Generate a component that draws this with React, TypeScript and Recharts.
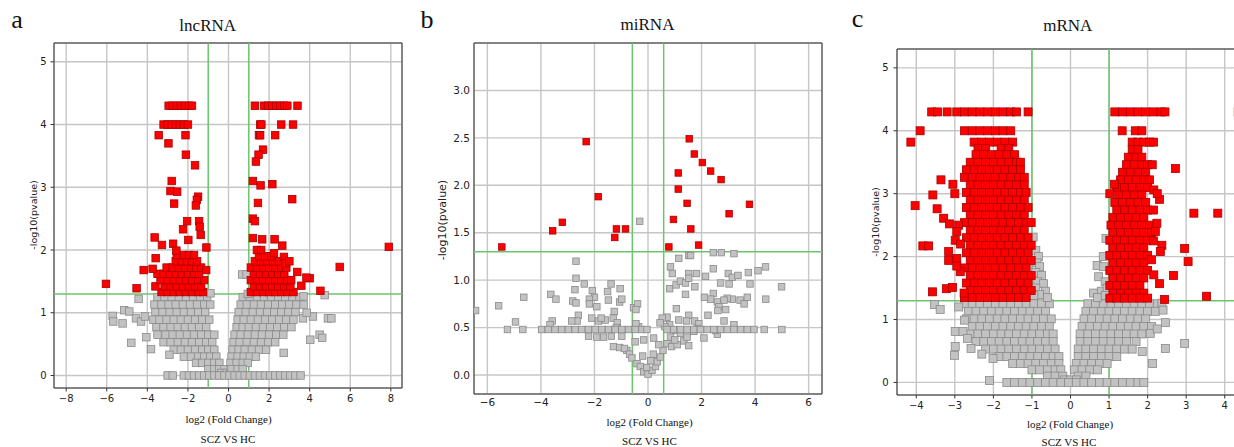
import React from 'react';
import { ScatterChart, Scatter, XAxis, YAxis, CartesianGrid, ReferenceLine, ReferenceArea } from 'recharts';

type P = [number, number];
type Row = [number, number[]];

// ---------------- lncRNA (panel a) ----------------
const lncRedSparse: P[] = [
  [-2.95, 4.3], [-2.75, 4.3], [-2.55, 4.3], [-2.35, 4.3], [-2.15, 4.3], [-1.95, 4.3], [-1.8, 4.3],
  [-3.2, 4.0], [-3.0, 4.0], [-2.8, 4.0], [-2.6, 4.0], [-2.4, 4.0], [-2.2, 4.0], [-2.0, 4.0],
  [-3.44, 3.83], [-2.12, 3.83], [-2.96, 3.7], [-2.1, 3.52], [-1.65, 3.35], [-2.8, 3.1], [-2.86, 2.94],
  [-2.53, 2.93], [-2.68, 2.74], [-1.5, 2.85], [-1.56, 2.8], [-1.61, 2.71], [-2.04, 2.46], [-1.45, 2.46],
  [-1.42, 2.37], [-1.37, 2.24], [-2.24, 2.33], [-3.64, 2.2], [-3.28, 2.08], [-2.73, 2.1], [-1.98, 2.16],
  [-1.09, 2.04], [-2.57, 1.99], [-3.59, 1.87], [-4.18, 1.68], [-3.74, 1.7], [-6.04, 1.46], [-4.53, 1.39],
  [-1.1, 1.68],
  [1.3, 4.3], [1.75, 4.3], [1.95, 4.3], [2.15, 4.3], [2.35, 4.3], [2.55, 4.3], [2.75, 4.3], [2.9, 4.3], [3.4, 4.3],
  [1.56, 4.0], [1.62, 4.0], [2.6, 4.0], [3.18, 4.0], [1.5, 3.83], [1.56, 3.83], [2.3, 3.83], [1.7, 3.6],
  [1.48, 3.52], [1.35, 3.41], [1.2, 3.1], [1.58, 3.03], [2.16, 3.05], [3.14, 2.81], [1.45, 2.75], [1.2, 2.5],
  [1.3, 2.46], [1.2, 2.19], [1.66, 2.17], [2.27, 2.17], [2.65, 2.07], [1.4, 2.0], [1.61, 2.0], [2.24, 1.95],
  [7.9, 2.05], [5.48, 1.73], [4.53, 1.35], [4.0, 1.55], [3.84, 1.56], [3.59, 1.43], [3.39, 1.65], [3.09, 1.52],
  [2.73, 1.89], [2.81, 1.79], [3.0, 1.82],
];
const lncRedLeftRows: Row[] = [
  [1.33, [-3.3, -3.0, -2.7, -2.4, -2.1, -1.8, -1.5, -1.25]],
  [1.42, [-3.6, -3.15, -2.85, -2.55, -2.25, -1.95, -1.65, -1.35]],
  [1.52, [-3.35, -3.0, -2.7, -2.4, -2.1, -1.8, -1.5, -1.2]],
  [1.62, [-3.5, -3.2, -2.9, -2.6, -2.3, -2.0, -1.7, -1.45]],
  [1.72, [-3.05, -2.75, -2.45, -2.15, -1.85, -1.6, -1.35]],
  [1.82, [-2.6, -2.3, -2.05, -1.8, -1.55]],
  [1.92, [-2.55, -2.2, -1.95, -1.7]],
];
const lncRedRightRows: Row[] = [
  [1.33, [1.1, 1.4, 1.7, 2.0, 2.3, 2.6, 2.9, 3.2]],
  [1.42, [1.25, 1.55, 1.85, 2.15, 2.45, 2.75, 3.05]],
  [1.52, [1.1, 1.4, 1.7, 2.0, 2.3, 2.6, 2.9]],
  [1.62, [1.25, 1.55, 1.85, 2.15, 2.45, 2.75]],
  [1.72, [1.1, 1.4, 1.7, 2.0, 2.3, 2.6, 2.85]],
  [1.82, [1.3, 1.6, 1.9, 2.2, 2.5]],
  [1.9, [1.5, 1.8, 2.1]],
];
const lncGreySparse: P[] = [
  [-4.43, 1.22], [-5.71, 0.95], [-5.68, 0.86], [-5.22, 0.83], [-5.14, 1.04], [-4.89, 1.02], [-4.56, 0.91],
  [-4.31, 0.86], [-4.12, 0.94], [-4.79, 0.52], [-4.05, 0.61], [-3.82, 0.42], [-2.91, 0.33], [-0.89, 1.31],
  [0.67, 1.61], [0.89, 1.61], [4.74, 1.28], [4.16, 0.94], [4.9, 0.91], [5.07, 0.91], [4.03, 0.57], [4.49, 0.65],
  [4.62, 0.6], [3.67, 0.91], [2.72, 0.36], [3.7, 1.26], [0.95, 1.3], [3.85, 1.0],
];
const lncGreyLeftRows: Row[] = [
  [1.25, [-3.5, -3.15, -2.8, -2.45, -2.1, -1.75, -1.4, -1.05]],
  [1.13, [-3.65, -3.3, -2.95, -2.6, -2.25, -1.9, -1.55, -1.2, -0.9]],
  [1.01, [-3.6, -3.25, -2.9, -2.55, -2.2, -1.85, -1.5, -1.15]],
  [0.89, [-3.7, -3.4, -3.05, -2.7, -2.35, -2.0, -1.65, -1.3, -0.95]],
  [0.77, [-3.55, -3.2, -2.85, -2.5, -2.15, -1.8, -1.45, -1.1]],
  [0.65, [-3.5, -3.1, -2.75, -2.4, -2.05, -1.7, -1.35, -1.0, -0.7]],
  [0.53, [-3.2, -2.85, -2.5, -2.15, -1.8, -1.45, -1.1, -0.8]],
  [0.41, [-2.7, -2.35, -2.0, -1.65, -1.3, -1.0, -0.7]],
  [0.3, [-2.2, -1.85, -1.5, -1.2, -0.9, -0.6]],
  [0.2, [-1.6, -1.3, -1.0, -0.7, -0.45]],
  [0.1, [-1.0, -0.7, -0.45, -0.2]],
  [0.04, [-0.35, -0.1, 0.1]],
];
const lncGreyRightRows: Row[] = [
  [1.25, [0.7, 1.05, 1.4, 1.75, 2.1, 2.45, 2.8, 3.15, 3.5]],
  [1.13, [0.6, 0.9, 1.25, 1.6, 1.95, 2.3, 2.65, 3.0, 3.35, 3.7]],
  [1.01, [0.5, 0.85, 1.2, 1.55, 1.9, 2.25, 2.6, 2.95, 3.3]],
  [0.89, [0.45, 0.75, 1.1, 1.45, 1.8, 2.15, 2.5, 2.85, 3.2]],
  [0.77, [0.4, 0.7, 1.0, 1.35, 1.7, 2.05, 2.4, 2.75, 3.1]],
  [0.65, [0.3, 0.6, 0.95, 1.3, 1.65, 2.0, 2.35, 2.7]],
  [0.53, [0.25, 0.55, 0.9, 1.25, 1.6, 1.95, 2.3]],
  [0.41, [0.2, 0.5, 0.8, 1.15, 1.5, 1.85]],
  [0.3, [0.15, 0.45, 0.75, 1.05, 1.35]],
  [0.2, [0.1, 0.4, 0.7, 0.95]],
  [0.1, [0.15, 0.45, 0.7]],
  [0.0, [-3.0, -2.75, -2.2, -1.95, -1.7, -1.45, -1.2, -0.95, -0.7, -0.45, -0.2, 0.05, 0.3, 0.55, 0.8, 1.05, 1.3, 1.55, 1.8, 2.05, 2.3, 2.55, 2.8, 3.05, 3.3, 3.55]],
];

// ---------------- miRNA (panel b) ----------------
const mirRed: P[] = [
  [-5.46, 1.35], [-3.56, 1.52], [-3.2, 1.61], [-2.31, 2.46], [-1.86, 1.88], [-1.24, 1.45], [-1.18, 1.54],
  [-0.84, 1.54], [0.78, 1.35], [0.95, 1.64], [1.13, 2.13], [1.13, 1.96], [1.46, 1.81], [1.54, 2.49],
  [1.73, 2.33], [2.03, 2.24], [2.34, 2.15], [2.73, 2.06], [1.6, 1.54], [1.89, 1.37], [3.03, 1.7], [3.79, 1.8],
];
const mirGrey: P[] = [
  [-6.44, 0.68], [-5.58, 0.73], [-4.95, 0.56], [-4.64, 0.82], [-3.63, 0.85], [-3.44, 0.8], [-3.58, 0.57],
  [-3.66, 0.53], [-2.69, 1.2], [-2.69, 1.02], [-2.73, 0.9], [-2.81, 0.78], [-2.69, 0.76], [-2.38, 0.96],
  [-2.08, 0.89], [-2.0, 0.82], [-2.19, 0.8], [-2.19, 0.75], [-1.91, 0.72], [-1.51, 0.88], [-1.48, 0.79],
  [-1.38, 0.96], [-1.04, 0.91], [-1.06, 0.77], [-0.98, 0.8], [-1.26, 0.67], [-0.54, 0.71], [-0.39, 0.75],
  [-0.45, 0.69], [-0.31, 1.62], [-2.6, 0.63], [-2.65, 0.57], [-2.85, 0.57], [-2.1, 0.6], [-1.85, 0.57],
  [-1.6, 0.58], [-1.75, 0.6], [-1.3, 0.6], [-1.15, 0.55], [-1.18, 0.5], [-2.22, 0.41], [-1.91, 0.4],
  [-1.66, 0.4], [-1.37, 0.41], [-0.98, 0.41], [-1.29, 0.3], [-1.06, 0.29], [-0.79, 0.26], [-0.88, 0.28],
  [-0.69, 0.22], [-0.6, 0.18], [-0.41, 0.12], [-0.29, 0.09], [-0.16, 0.035], [0, 0.01], [0.15, 0.05],
  [0.28, 0.09], [0.34, 0.14], [0.46, 0.19], [0.56, 0.26], [0.71, 0.33], [0.88, 0.3], [1.09, 0.32],
  [1.34, 0.36], [1.52, 0.31], [-0.48, 0.35], [-0.16, 0.37], [0.21, 0.39], [0.4, 0.32], [-0.35, 0.51],
  [-0.2, 0.2], [0.1, 0.15], [-0.05, 0.08], [0.2, 0.22],
  [0.81, 0.91], [0.84, 1.14], [0.91, 1.07], [1.15, 1.23], [1.52, 1.26], [1.59, 1.26], [2.44, 1.29],
  [2.74, 1.29], [3.21, 1.28], [1.05, 0.95], [1.21, 0.99], [1.4, 0.97], [1.52, 1.07], [1.52, 1.02],
  [1.81, 1.07], [1.75, 0.93], [1.4, 0.85], [2.15, 1.04], [2.44, 1.12], [2.71, 0.97], [3.03, 0.96],
  [3.0, 1.07], [3.15, 1.03], [3.36, 1.05], [3.75, 1.08], [4.11, 1.1], [4.39, 1.14], [3.81, 0.96],
  [4.99, 0.93], [4.4, 0.8], [3.71, 0.82], [3.44, 0.79], [3.15, 0.8], [2.96, 0.81], [2.84, 0.79],
  [2.59, 0.77], [2.44, 0.86], [2.34, 0.8], [2.11, 0.82], [2.65, 0.72], [2.9, 0.69], [2.61, 0.68],
  [3.59, 0.75], [2.24, 0.63], [2.84, 0.57], [3.21, 0.53], [1.06, 0.7], [1.52, 0.63], [1.44, 0.57],
  [1.74, 0.57], [1.9, 0.54], [1.84, 0.49], [0.71, 0.61], [0.53, 0.6], [0.81, 0.53], [1.03, 0.47],
  [1.21, 0.44], [1.46, 0.4], [1.71, 0.46], [2.09, 0.39], [2.59, 0.43], [2.52, 0.47], [0.63, 0.51],
  [1.15, 0.58], [0.84, 0.4], [1.0, 0.37], [0.45, 0.55], [-0.45, 0.54],
];
const mirGreyRows: Row[] = [
  [0.48, [-5.25, -4.675, -3.975, -3.725, -3.475, -3.225, -2.975, -2.725, -2.475, -2.225, -1.975, -1.725,
    -1.475, -1.225, -0.975, -0.725, -0.475, -0.225, -0.04, 0.71, 0.96, 1.21, 1.46, 1.71, 1.96, 2.21, 2.46,
    2.71, 2.96, 3.21, 3.46, 3.71, 3.96, 4.34, 5.0]],
];

// ---------------- mRNA (panel c) ----------------
const mRedSparse: P[] = [
  [-3.9, 4.0], [-4.14, 3.82], [-3.36, 3.22], [-3.05, 3.15], [-3.57, 2.98], [-3.0, 3.0], [-4.03, 2.81],
  [-3.46, 2.76], [-3.29, 2.61], [-3.14, 2.52], [-3.83, 2.17], [-3.68, 2.17], [-2.99, 2.26], [-3.16, 2.08],
  [-3.16, 1.94], [-2.95, 1.97], [-3.58, 1.44], [-3.22, 1.49], [-3.06, 1.51], [-2.76, 1.42], [-2.86, 1.76],
  [-2.9, 2.5], [-2.95, 2.4], [-2.85, 2.2], [-2.95, 1.85],
  [2.72, 3.4], [3.2, 2.69], [3.82, 2.69], [2.96, 2.13], [3.05, 1.92], [2.67, 1.7], [3.53, 1.37], [2.44, 1.32],
  [2.37, 2.18], [2.33, 2.08], [2.31, 1.57], [2.16, 1.71], [2.24, 2.53], [2.31, 2.91], [2.16, 3.06],
  [2.12, 3.46], [1.02, 3.0], [1.14, 3.15], [4.35, 4.3], [2.2, 2.4], [2.1, 1.95], [2.15, 2.25], [2.25, 3.0],
];
const mRedLeftRows: Row[] = [
  [4.3, [-3.6, -3.45, -3.2, -2.95, -2.75, -2.55, -2.35, -2.15, -1.95, -1.75, -1.55, -1.4, -1.1]],
  [4.0, [-2.75, -2.55, -2.35, -2.15, -1.95, -1.75, -1.55]],
  [3.82, [-2.5, -2.3, -2.1, -1.9, -1.7, -1.5]],
  [3.72, [-2.4, -2.2, -1.8, -1.6]],
  [3.62, [-2.45, -2.25, -2.05, -1.85, -1.65, -1.45]],
  [3.5, [-2.6, -2.4, -2.2, -2.0, -1.8, -1.6, -1.4, -1.3]],
  [3.38, [-2.7, -2.5, -2.3, -2.1, -1.9, -1.7, -1.5, -1.3]],
  [3.26, [-2.75, -2.55, -2.35, -2.15, -1.95, -1.75, -1.55, -1.35, -1.2]],
  [3.14, [-2.6, -2.4, -2.2, -2.0, -1.8, -1.6, -1.4, -1.2]],
  [3.02, [-2.7, -2.5, -2.3, -2.1, -1.9, -1.7, -1.5, -1.3, -1.15]],
  [2.9, [-2.6, -2.4, -2.2, -2.0, -1.8, -1.6, -1.4, -1.2]],
  [2.78, [-2.7, -2.5, -2.3, -2.1, -1.9, -1.7, -1.5, -1.3, -1.1]],
  [2.66, [-2.6, -2.4, -2.2, -2.0, -1.8, -1.6, -1.4, -1.2]],
  [2.54, [-2.75, -2.55, -2.35, -2.15, -1.95, -1.75, -1.55, -1.35, -1.15, -1.02]],
  [2.42, [-2.6, -2.4, -2.2, -2.0, -1.8, -1.6, -1.4, -1.2]],
  [2.3, [-2.7, -2.5, -2.3, -2.1, -1.9, -1.7, -1.5, -1.3, -1.1]],
  [2.18, [-2.6, -2.4, -2.2, -2.0, -1.8, -1.6, -1.4, -1.2, -1.02]],
  [2.06, [-2.7, -2.5, -2.3, -2.1, -1.9, -1.7, -1.5, -1.3, -1.1]],
  [1.94, [-2.6, -2.4, -2.2, -2.0, -1.8, -1.6, -1.4, -1.2, -1.02]],
  [1.82, [-2.75, -2.55, -2.35, -2.15, -1.95, -1.75, -1.55, -1.35, -1.15]],
  [1.7, [-2.6, -2.4, -2.2, -2.0, -1.8, -1.6, -1.4, -1.2, -1.02]],
  [1.58, [-2.7, -2.5, -2.3, -2.1, -1.9, -1.7, -1.5, -1.3, -1.1]],
  [1.46, [-2.6, -2.4, -2.2, -2.0, -1.8, -1.6, -1.4, -1.2, -1.02]],
  [1.35, [-2.75, -2.55, -2.35, -2.15, -1.95, -1.75, -1.55, -1.35, -1.15]],
];
const mRedRightRows: Row[] = [
  [4.3, [1.15, 1.35, 1.55, 1.75, 1.95, 2.15, 2.35, 2.45]],
  [4.0, [1.34, 1.68, 1.85]],
  [3.82, [1.6, 1.75, 1.9, 2.05, 2.15]],
  [3.7, [1.6, 1.75]],
  [3.58, [1.5, 1.7, 1.85]],
  [3.46, [1.45, 1.65, 1.85, 2.0]],
  [3.34, [1.35, 1.55, 1.75, 1.95]],
  [3.22, [1.3, 1.5, 1.7, 1.9, 2.05]],
  [3.1, [1.2, 1.4, 1.6, 1.8, 2.0]],
  [2.98, [1.25, 1.45, 1.65, 1.85]],
  [2.86, [1.15, 1.35, 1.55, 1.75, 1.95]],
  [2.74, [1.2, 1.4, 1.6, 1.8, 2.0, 2.15]],
  [2.62, [1.1, 1.3, 1.5, 1.7, 1.9]],
  [2.5, [1.05, 1.25, 1.45, 1.65, 1.85, 2.05]],
  [2.38, [1.1, 1.3, 1.5, 1.7, 1.9, 2.1]],
  [2.26, [1.02, 1.2, 1.4, 1.6, 1.8, 2.0]],
  [2.14, [1.1, 1.3, 1.5, 1.7, 1.9]],
  [2.02, [1.02, 1.2, 1.4, 1.6, 1.8, 2.0]],
  [1.9, [1.1, 1.3, 1.5, 1.7, 1.9]],
  [1.78, [1.02, 1.2, 1.4, 1.6, 1.8, 2.0]],
  [1.66, [1.1, 1.3, 1.5, 1.7, 1.9]],
  [1.54, [1.02, 1.2, 1.4, 1.6, 1.8]],
  [1.42, [1.1, 1.3, 1.5, 1.7, 1.9]],
  [1.34, [1.02, 1.2, 1.4, 1.6, 1.8, 2.0]],
];
const mGreySparse: P[] = [
  [-3.53, 1.24], [-3.38, 1.16], [-2.99, 0.81], [-2.99, 0.57], [-3.01, 0.43], [-2.75, 0.99], [-2.79, 0.81],
  [-2.67, 0.7], [-2.58, 0.54], [-2.3, 0.45], [-2.01, 0.38], [-2.1, 0.03], [-2.9, 1.2],
  [2.46, 0.95], [2.46, 0.54], [2.96, 0.62], [2.13, 0.3], [2.07, 0.78], [2.37, 1.26], [1.86, 0.49],
  [2.4, 1.15], [2.25, 0.85],
  [-0.97, 2.31], [-0.9, 2.1], [-0.83, 2.0], [-0.87, 1.9], [-0.8, 1.84], [-0.9, 1.75], [-0.75, 1.7],
  [-0.85, 1.6], [-0.7, 1.57], [-0.9, 1.5], [-0.65, 1.45], [-0.8, 1.4], [-0.6, 1.35], [-0.95, 1.38],
  [0.92, 2.29], [0.85, 2.0], [0.69, 1.86], [0.86, 1.84], [0.73, 1.68], [0.9, 1.6], [0.6, 1.42],
  [0.8, 1.45], [0.95, 1.5], [0.7, 1.35], [0.9, 1.38],
];
const mGreyRows: Row[] = [
  [1.25, [-2.75, -2.55, -2.35, -2.15, -1.95, -1.75, -1.55, -1.35, -1.15, -0.95, -0.75, -0.55, 0.45, 0.65, 0.85, 1.05, 1.25, 1.45, 1.65, 1.85, 2.05, 2.25]],
  [1.13, [-2.65, -2.45, -2.25, -2.05, -1.85, -1.65, -1.45, -1.25, -1.05, -0.85, -0.65, 0.4, 0.6, 0.8, 1.0, 1.2, 1.4, 1.6, 1.8, 2.0, 2.2]],
  [1.01, [-2.7, -2.5, -2.3, -2.1, -1.9, -1.7, -1.5, -1.3, -1.1, -0.9, -0.7, -0.5, 0.35, 0.55, 0.75, 0.95, 1.15, 1.35, 1.55, 1.75, 1.95]],
  [0.89, [-2.55, -2.35, -2.15, -1.95, -1.75, -1.55, -1.35, -1.15, -0.95, -0.75, -0.55, 0.3, 0.5, 0.7, 0.9, 1.1, 1.3, 1.5, 1.7, 1.9, 2.1]],
  [0.77, [-2.6, -2.4, -2.2, -2.0, -1.8, -1.6, -1.4, -1.2, -1.0, -0.8, -0.6, -0.45, 0.25, 0.45, 0.65, 0.85, 1.05, 1.25, 1.45, 1.65, 1.85]],
  [0.65, [-2.45, -2.25, -2.05, -1.85, -1.65, -1.45, -1.25, -1.05, -0.85, -0.65, -0.45, 0.25, 0.45, 0.65, 0.85, 1.05, 1.25, 1.45, 1.7]],
  [0.53, [-2.2, -2.0, -1.8, -1.6, -1.4, -1.2, -1.0, -0.8, -0.6, -0.4, 0.2, 0.4, 0.6, 0.8, 1.0, 1.2, 1.4, 1.6]],
  [0.41, [-1.85, -1.65, -1.45, -1.25, -1.05, -0.85, -0.65, -0.45, -0.3, 0.2, 0.4, 0.6, 0.8, 1.0, 1.2]],
  [0.3, [-1.5, -1.3, -1.1, -0.9, -0.7, -0.5, -0.3, 0.15, 0.35, 0.55, 0.75, 0.95]],
  [0.2, [-1.0, -0.8, -0.6, -0.4, -0.25, 0.1, 0.3, 0.5, 0.7]],
  [0.1, [-0.6, -0.4, -0.2, 0.2, 0.4]],
  [0.04, [-0.15, 0.0, 0.15]],
  [0.0, [-1.65, -1.45, -1.25, -1.05, -0.85, -0.65, -0.45, -0.25, -0.05, 0.15, 0.35, 0.55, 0.75, 0.95, 1.15, 1.35, 1.55, 1.75, 1.9]],
];

// ---------------- ticks ----------------
const lncXTicks = [-8, -6, -4, -2, 0, 2, 4, 6, 8];
const lncYTicks = [0, 1, 2, 3, 4, 5];
const mirXTicks = [-6, -4, -2, 0, 2, 4, 6];
const mirYTicks = [0, 0.5, 1, 1.5, 2, 2.5, 3];
const mXTicks = [-4, -3, -2, -1, 0, 1, 2, 3, 4];
const mYTicks = [0, 1, 2, 3, 4, 5];

const fromPts = (pts: P[]) => pts.map(([x, y]) => ({ x, y }));
const fromRows = (rows: Row[]) => rows.flatMap(([y, xs]) => xs.map((x) => ({ x, y })));

const minus = (v: number) => String(v).replace('-', '\u2212');
const minus1 = (v: number) => v.toFixed(1).replace('-', '\u2212');

const square = (size: number, fill: string, stroke: string) => (props: any) => {
  const { cx, cy } = props;
  if (cx == null || cy == null) return <g />;
  return (
    <rect x={cx - size / 2} y={cy - size / 2} width={size} height={size} fill={fill} stroke={stroke} strokeWidth={0.8} />
  );
};

const GREEN = '#6cc46c';
const GRID = '#c6c6c6';

interface PanelProps {
  left: number;
  margin: { top: number; right: number; bottom: number; left: number };
  yWidth: number;
  xDomain: [number, number];
  yDomain: [number, number];
  xTicks: number[];
  yTicks: number[];
  grey: { x: number; y: number }[];
  red: { x: number; y: number }[];
  vlines: number[];
  size: number;
  fontSize: number;
  yFmt: (v: number) => string;
  tickSize: number;
  xTickMargin: number;
  yTickMargin: number;
}

function Panel(p: PanelProps) {
  const tick = { fontSize: p.fontSize, fill: '#222', fontFamily: 'DejaVu Sans' };
  return (
    <div style={{ position: 'absolute', left: p.left, top: 0 }}>
      <ScatterChart width={420} height={447} margin={p.margin}>
        <CartesianGrid stroke={GRID} strokeWidth={1.4} />
        <XAxis
          type="number"
          dataKey="x"
          domain={p.xDomain}
          ticks={p.xTicks}
          interval={0}
          allowDataOverflow
          height={20}
          axisLine={false}
          tickLine={p.tickSize > 0 ? { stroke: '#333' } : false}
          tickSize={p.tickSize}
          tickMargin={p.xTickMargin}
          tick={tick}
          tickFormatter={minus}
        />
        <YAxis
          type="number"
          dataKey="y"
          domain={p.yDomain}
          ticks={p.yTicks}
          interval={0}
          allowDataOverflow
          width={p.yWidth}
          axisLine={false}
          tickLine={p.tickSize > 0 ? { stroke: '#333' } : false}
          tickSize={p.tickSize}
          tickMargin={p.yTickMargin}
          tick={tick}
          tickFormatter={p.yFmt}
        />
        <Scatter data={p.grey} shape={square(p.size, '#c2c2c2', '#8a8a8a')} isAnimationActive={false} />
        {p.vlines.map((v) => (
          <ReferenceLine key={v} x={v} stroke={GREEN} strokeWidth={1.5} />
        ))}
        <ReferenceLine y={1.3} stroke={GREEN} strokeWidth={1.5} />
        <Scatter data={p.red} shape={square(p.size, '#ff0000', '#a80000')} isAnimationActive={false} />
        <ReferenceArea
          x1={p.xDomain[0]}
          x2={p.xDomain[1]}
          y1={p.yDomain[0]}
          y2={p.yDomain[1]}
          fill="none"
          fillOpacity={0}
          stroke="#333"
          strokeWidth={1}
        />
      </ScatterChart>
    </div>
  );
}

const serif = "'Liberation Serif', 'Times New Roman', serif";
const sans = "'DejaVu Sans', sans-serif";

export default function App() {
  return (
    <div style={{ position: 'fixed', left: 0, top: 0, width: 1234, height: 447, overflow: 'hidden', background: '#fff' }}>
      <Panel
        left={0}
        margin={{ top: 43, right: 18, bottom: 39, left: 0 }}
        yWidth={54}
        xDomain={[-8.6, 8.55]}
        yDomain={[-0.2, 5.3]}
        xTicks={lncXTicks}
        yTicks={lncYTicks}
        grey={[...fromRows(lncGreyLeftRows), ...fromRows(lncGreyRightRows), ...fromPts(lncGreySparse)]}
        red={[...fromRows(lncRedLeftRows), ...fromRows(lncRedRightRows), ...fromPts(lncRedSparse)]}
        vlines={[-1, 1]}
        size={7.5}
        fontSize={10}
        yFmt={minus}
        tickSize={3.5}
        xTickMargin={3}
        yTickMargin={4}
      />
      <Panel
        left={420}
        margin={{ top: 43, right: 18, bottom: 33, left: 0 }}
        yWidth={54}
        xDomain={[-6.5, 6.5]}
        yDomain={[-0.2, 3.5]}
        xTicks={mirXTicks}
        yTicks={mirYTicks}
        grey={[...fromPts(mirGrey), ...fromRows(mirGreyRows)]}
        red={fromPts(mirRed)}
        vlines={[-0.585, 0.585]}
        size={6.5}
        fontSize={10.5}
        yFmt={minus1}
        tickSize={0}
        xTickMargin={5}
        yTickMargin={4}
      />
      <Panel
        left={840}
        margin={{ top: 49, right: 16, bottom: 32, left: 0 }}
        yWidth={57}
        xDomain={[-4.5, 4.5]}
        yDomain={[-0.2, 5.3]}
        xTicks={mXTicks}
        yTicks={mYTicks}
        grey={[...fromRows(mGreyRows), ...fromPts(mGreySparse)]}
        red={[...fromRows(mRedLeftRows), ...fromRows(mRedRightRows), ...fromPts(mRedSparse)]}
        vlines={[-1, 1]}
        size={8}
        fontSize={10}
        yFmt={minus}
        tickSize={3.5}
        xTickMargin={3}
        yTickMargin={5}
      />
      <svg width={1234} height={447} style={{ position: 'absolute', left: 0, top: 0, pointerEvents: 'none' }}>
        <g fontFamily={serif} fill="#111" textAnchor="middle">
          <text x={17} y={28} fontSize={26}>a</text>
          <text x={427} y={28} fontSize={26}>b</text>
          <text x={857.5} y={27} fontSize={26}>c</text>
          <text x={207.7} y={30.7} fontSize={17}>lncRNA</text>
          <text x={647.5} y={30} fontSize={17}>miRNA</text>
          <text x={1067.8} y={31} fontSize={17}>mRNA</text>
          <text x={228.5} y={422.5} fontSize={11}>log2 (Fold Change)</text>
          <text x={228} y={443} fontSize={11}>SCZ VS HC</text>
          <text x={649.5} y={426} fontSize={11}>log2 (Fold Change)</text>
          <text x={649.5} y={445} fontSize={11}>SCZ VS HC</text>
          <text x={1070} y={428} fontSize={11}>log2 (Fold Change)</text>
          <text x={1069} y={445.5} fontSize={11}>SCZ VS HC</text>
        </g>
        <g fontFamily={sans} fill="#222" textAnchor="middle" dominantBaseline="central">
          <text x={33.5} y={215} fontSize={9.5} transform="rotate(-90 33.5 215)">-log10(pvalue)</text>
          <text x={442} y={220} fontSize={11} transform="rotate(-90 442 220)">-log10(pvalue)</text>
          <text x={875.5} y={222} fontSize={9.5} transform="rotate(-90 875.5 222)">-log10(pvalue)</text>
        </g>
      </svg>
    </div>
  );
}
